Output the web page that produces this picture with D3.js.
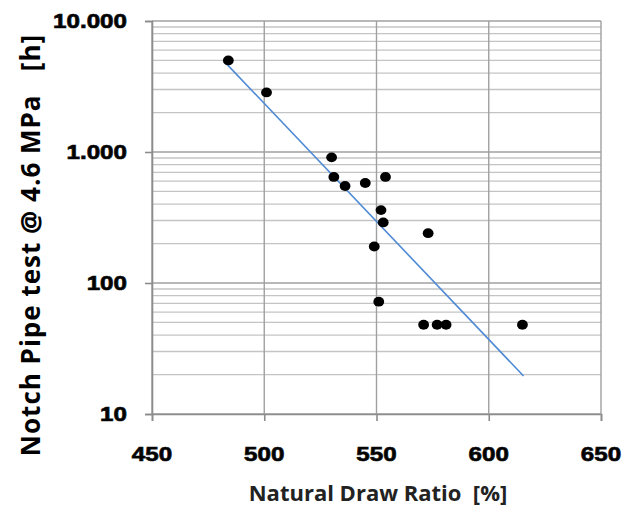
<!DOCTYPE html>
<html>
<head>
<meta charset="utf-8">
<script src="https://cdn.jsdelivr.net/npm/d3@7"></script>
<style>
  body { margin: 0; background: #fff; }
  svg { display: block; }
</style>
</head>
<body>
<script>
// draw ratio [%] vs notch pipe test time [h]
var drawRatio = [484, 501, 530, 531, 536, 545, 554, 552, 553, 573, 549, 551, 571, 577, 581, 615];
var hours     = [5000, 2850, 910, 645, 550, 580, 645, 360, 290, 240, 190, 72, 48, 48, 48, 48];

// trend line ends
var trendX = [483, 615.5];
var trendY = [4750, 19.5];

var xTicks = [450, 500, 550, 600, 650];
var yTicks = [10, 100, 1000, 10000];
var yTickLabels = ["10", "100", "1.000", "10.000"];

var width = 639, height = 507;
var margin = { top: 21, right: 38, bottom: 93, left: 152 };

var svg = d3.select("body").append("svg")
  .attr("width", width)
  .attr("height", height);

var x = d3.scaleLinear().domain([450, 650]).range([margin.left, width - margin.right]);
var y = d3.scaleLog().domain([10, 10000]).range([height - margin.bottom, margin.top]);

// minor horizontal grid (2..9 in each decade)
var minor = [];
for (var dec = 10; dec < 10000; dec *= 10) {
  for (var k = 2; k <= 9; k++) minor.push(dec * k);
}

svg.append("g").selectAll("line.minor")
  .data(minor)
  .enter().append("line")
  .attr("x1", x(450)).attr("x2", x(650))
  .attr("y1", d => y(d)).attr("y2", d => y(d))
  .attr("stroke", "#c4c4c4")
  .attr("stroke-width", 1.3);

svg.append("g").selectAll("line.major")
  .data(yTicks)
  .enter().append("line")
  .attr("x1", x(450)).attr("x2", x(650))
  .attr("y1", d => y(d)).attr("y2", d => y(d))
  .attr("stroke", "#a0a0a0")
  .attr("stroke-width", 1.4);

svg.append("g").selectAll("line.vgrid")
  .data(xTicks)
  .enter().append("line")
  .attr("x1", d => x(d)).attr("x2", d => x(d))
  .attr("y1", y(10)).attr("y2", y(10000))
  .attr("stroke", "#a0a0a0")
  .attr("stroke-width", 1.4);

// axes
var xAxis = d3.axisBottom(x).tickValues(xTicks).tickSize(7).tickFormat("");
var yAxis = d3.axisLeft(y).tickValues(yTicks).tickSize(7).tickFormat("");

var gx = svg.append("g").attr("transform", "translate(0," + y(10) + ")").call(xAxis);
var gy = svg.append("g").attr("transform", "translate(" + x(450) + ",0)").call(yAxis);
[gx, gy].forEach(function (g) {
  g.select(".domain").attr("stroke", "#8c8c8c").attr("stroke-width", 1.6);
  g.selectAll(".tick line").attr("stroke", "#8c8c8c").attr("stroke-width", 1.6);
});

// tick labels: the original is wide and heavy, so stretch a little and add a thin stroke
svg.append("g").selectAll("text")
  .data(xTicks)
  .enter().append("text")
  .attr("transform", d => "translate(" + x(d) + ",461) scale(1.24,1)")
  .attr("text-anchor", "middle")
  .attr("stroke", "#111").attr("stroke-width", 0.7)
  .style("font-family", "Liberation Sans, Arial, sans-serif")
  .style("font-weight", "bold")
  .style("font-size", "19.5px")
  .text(d => d);

svg.append("g").selectAll("text")
  .data(yTicks)
  .enter().append("text")
  .attr("transform", d => "translate(127," + (y(d) + 6.5) + ") scale(1.24,1)")
  .attr("text-anchor", "end")
  .attr("stroke", "#111").attr("stroke-width", 0.7)
  .style("font-family", "Liberation Sans, Arial, sans-serif")
  .style("font-weight", "bold")
  .style("font-size", "19.5px")
  .text((d, i) => yTickLabels[i]);

// trend line
svg.append("line")
  .attr("x1", x(trendX[0])).attr("y1", y(trendY[0]))
  .attr("x2", x(trendX[1])).attr("y2", y(trendY[1]))
  .attr("stroke", "#4f8ad4")
  .attr("stroke-width", 1.6);

// points
svg.append("g").selectAll("ellipse")
  .data(drawRatio)
  .enter().append("ellipse")
  .attr("cx", d => x(d))
  .attr("cy", (d, i) => y(hours[i]))
  .attr("rx", 5.4)
  .attr("ry", 4.9)
  .attr("fill", "#000");

// titles
svg.append("text")
  .attr("x", 378)
  .attr("y", 501)
  .attr("text-anchor", "middle")
  .attr("fill", "#222")
  .style("font-family", "Open Sans, sans-serif")
  .style("font-weight", "bold")
  .style("font-size", "22px")
  .style("white-space", "pre")
  .text("Natural Draw Ratio  [%]");

svg.append("text")
  .attr("transform", "translate(39.5,245) rotate(-90)")
  .attr("text-anchor", "middle")
  .style("font-family", "Open Sans, sans-serif")
  .style("font-weight", "bold")
  .style("font-size", "26px")
  .style("letter-spacing", "1px")
  .style("white-space", "pre")
  .text("Notch Pipe test @ 4.6 MPa   [h]");
</script>
</body>
</html>
